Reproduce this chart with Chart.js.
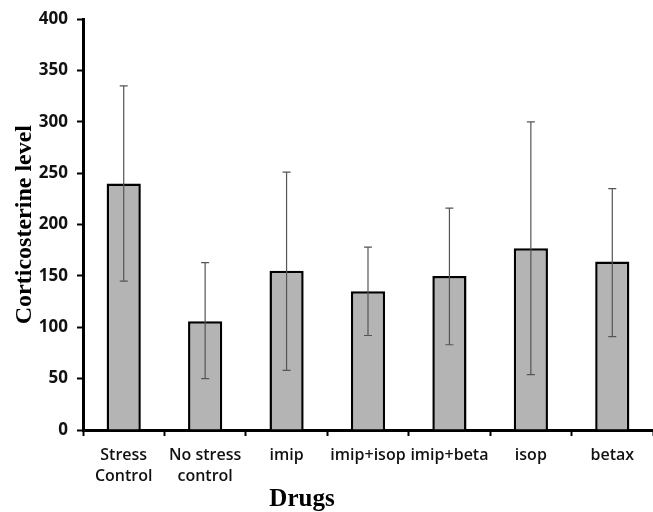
<!DOCTYPE html>
<html>
<head>
<meta charset="utf-8">
<script src="https://cdn.jsdelivr.net/npm/chart.js@4/dist/chart.umd.min.js"></script>
<style>
    html, body { margin: 0; padding: 0; background: #fff; }
    #wrap { width: 653px; height: 512px; position: relative; }
</style>
</head>
<body>
<div id="wrap"><canvas id="chart"></canvas></div>
<script>
const categories = [["Stress", "Control"], ["No stress", "control"], "imip", "imip+isop", "imip+beta", "isop", "betax"];
const means = [240, 106, 155, 135, 150, 177, 164];
const errLow = [145, 50, 58, 92, 83, 54, 91];
const errHigh = [335, 163, 251, 178, 216, 300, 235];
const yTicks = [0, 50, 100, 150, 200, 250, 300, 350, 400];

// error bars drawn through the scales
const errorBars = {
    id: "errorBars",
    afterDatasetsDraw(chart) {
        const { ctx, scales: { x, y } } = chart;
        ctx.save();
        ctx.strokeStyle = "#555";
        ctx.lineWidth = 1.2;
        means.forEach((m, i) => {
            const px = x.getPixelForValue(i);
            const top = y.getPixelForValue(errHigh[i]);
            const bot = y.getPixelForValue(errLow[i]);
            ctx.beginPath();
            ctx.moveTo(px, top); ctx.lineTo(px, bot);
            ctx.moveTo(px - 4, top); ctx.lineTo(px + 4, top);
            ctx.moveTo(px - 4, bot); ctx.lineTo(px + 4, bot);
            ctx.stroke();
        });
        ctx.restore();
    }
};

const xTitle = {
    id: "xTitle",
    afterDraw(chart) {
        const { ctx } = chart;
        ctx.save();
        ctx.font = "bold 25px 'Liberation Serif', 'Times New Roman', serif";
        ctx.fillStyle = "#000";
        ctx.textAlign = "center";
        ctx.textBaseline = "alphabetic";
        ctx.fillText("Drugs", 302, 506);
        ctx.restore();
    }
};

new Chart(document.getElementById("chart"), {
    type: "bar",
    data: {
        labels: categories,
        datasets: [{
            data: means,
            backgroundColor: "#b4b4b4",
            borderColor: "#000",
            borderWidth: 2.5,
            barPercentage: 0.42,
            categoryPercentage: 1
        }]
    },
    options: {
        responsive: true,
        maintainAspectRatio: false,
        animation: false,
        layout: { padding: { top: 16, right: 0, left: 0, bottom: 0 } },
        plugins: { legend: { display: false }, tooltip: { enabled: false } },
        scales: {
            x: {
                grid: { display: true, drawOnChartArea: false, tickLength: 6, tickWidth: 2, tickColor: "#000" },
                border: { color: "#000", width: 3 },
                ticks: {
                    color: "#111",
                    padding: 9,
                    maxRotation: 0,
                    autoSkip: false,
                    font: { family: "'Open Sans'", size: 16, weight: "600", lineHeight: 1.3 }
                },
                afterFit(s) { s.height = 82; }
            },
            y: {
                min: 0,
                max: 400,
                afterBuildTicks(s) { s.ticks = yTicks.map(v => ({ value: v })); },
                grid: { display: true, drawOnChartArea: false, tickLength: 6, tickWidth: 2, tickColor: "#000" },
                border: { color: "#000", width: 3 },
                ticks: {
                    color: "#111",
                    padding: 9,
                    font: { family: "'Open Sans'", size: 17, weight: "bold" }
                },
                title: {
                    display: true,
                    text: "Corticosterine level",
                    color: "#000",
                    padding: { top: 10, bottom: 0 },
                    font: { family: "'Liberation Serif', 'Times New Roman', serif", size: 24, weight: "bold" }
                },
                afterFit(s) { s.width = 83; }
            }
        }
    },
    plugins: [errorBars, xTitle]
});
</script>
</body>
</html>
